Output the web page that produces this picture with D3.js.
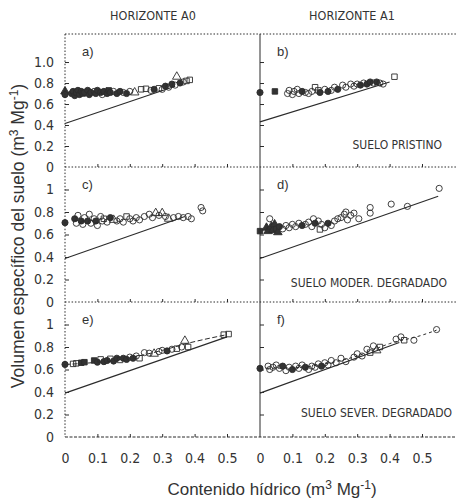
<!DOCTYPE html>
<html><head><meta charset="utf-8">
<script src="https://cdn.jsdelivr.net/npm/d3@7"></script>
<style>
body{margin:0;background:#fff;}
svg text{fill:#333;}
.nar{font-family:"Liberation Sans Narrow","DejaVu Sans Condensed","Liberation Sans",Arial,sans-serif;font-stretch:condensed;}
.reg{font-family:"Liberation Sans",Arial,sans-serif;}
</style></head><body>
<svg id="c" width="458" height="501"></svg>
<script>
// ---------- data ----------
const columnTitles = ["HORIZONTE A0", "HORIZONTE A1"];
const panelLetters = ["a)", "b)", "c)", "d)", "e)", "f)"];
const rowNotes = ["SUELO PRISTINO", "SUELO MODER. DEGRADADO", "SUELO SEVER. DEGRADADO"];
const xTicks = [0, 0.1, 0.2, 0.3, 0.4, 0.5];
const xTickLabels = ["0", "0.1", "0.2", "0.3", "0.4", "0.5"];
const yTicks = [0, 0.2, 0.4, 0.6, 0.8, 1.0];
const yTickLabelsTop = ["0", "0.2", "0.4", "0.6", "0.8", "1.0"];
const yTickLabelsLow = ["0", "0.2", "0.4", "0.6", "0.8", "1"];
const xMax = 0.6;
const yMaxByRow = [1.267, 1.2, 1.2];

// [water content, specific volume, marker] ; c=open circle, s=open square, t=open triangle, upper case = filled
const pointsA = [[0,0.72,'T'],[0,0.69,'C'],[0.02,0.70,'C'],[0.025,0.72,'C'],[0.03,0.68,'C'],[0.035,0.71,'S'],[0.04,0.73,'C'],[0.045,0.69,'C'],[0.05,0.72,'C'],[0.055,0.70,'S'],[0.06,0.71,'C'],[0.07,0.73,'C'],[0.075,0.69,'C'],[0.08,0.71,'C'],[0.09,0.72,'c'],[0.095,0.70,'C'],[0.10,0.73,'C'],[0.11,0.71,'C'],[0.115,0.69,'c'],[0.12,0.72,'C'],[0.13,0.70,'C'],[0.135,0.73,'S'],[0.14,0.71,'C'],[0.15,0.72,'c'],[0.16,0.70,'C'],[0.17,0.72,'C'],[0.18,0.71,'c'],[0.19,0.70,'C'],[0.20,0.72,'c'],[0.215,0.71,'t'],[0.235,0.74,'s'],[0.25,0.745,'s'],[0.265,0.73,'c'],[0.275,0.74,'C'],[0.29,0.75,'s'],[0.30,0.74,'c'],[0.31,0.77,'C'],[0.32,0.76,'c'],[0.33,0.79,'C'],[0.34,0.78,'c'],[0.345,0.86,'t'],[0.355,0.80,'C'],[0.365,0.81,'c'],[0.375,0.82,'s'],[0.385,0.83,'s']];
const pointsB = [[0,0.71,'C'],[0.046,0.72,'S'],[0.085,0.70,'c'],[0.09,0.73,'c'],[0.10,0.69,'c'],[0.105,0.72,'c'],[0.115,0.74,'c'],[0.12,0.70,'c'],[0.13,0.72,'C'],[0.14,0.71,'c'],[0.15,0.70,'c'],[0.16,0.72,'c'],[0.17,0.76,'s'],[0.18,0.73,'s'],[0.185,0.71,'C'],[0.20,0.74,'c'],[0.21,0.72,'C'],[0.22,0.73,'c'],[0.23,0.76,'c'],[0.24,0.74,'C'],[0.255,0.78,'c'],[0.265,0.76,'c'],[0.28,0.79,'c'],[0.29,0.77,'c'],[0.30,0.79,'c'],[0.31,0.78,'C'],[0.32,0.80,'c'],[0.33,0.79,'C'],[0.34,0.81,'C'],[0.35,0.80,'c'],[0.36,0.81,'C'],[0.37,0.80,'c'],[0.38,0.79,'c'],[0.415,0.86,'s']];
const pointsC = [[0,0.705,'C'],[0.03,0.74,'C'],[0.035,0.70,'c'],[0.04,0.77,'c'],[0.05,0.72,'C'],[0.055,0.69,'c'],[0.06,0.75,'c'],[0.07,0.72,'C'],[0.075,0.78,'c'],[0.08,0.70,'c'],[0.09,0.74,'c'],[0.095,0.72,'C'],[0.10,0.68,'c'],[0.11,0.76,'c'],[0.115,0.72,'c'],[0.12,0.74,'s'],[0.13,0.71,'c'],[0.14,0.75,'C'],[0.15,0.73,'t'],[0.16,0.72,'c'],[0.17,0.74,'c'],[0.18,0.71,'c'],[0.19,0.76,'s'],[0.20,0.74,'c'],[0.21,0.72,'c'],[0.22,0.75,'c'],[0.23,0.73,'c'],[0.245,0.76,'c'],[0.26,0.78,'c'],[0.27,0.75,'c'],[0.28,0.79,'t'],[0.29,0.77,'c'],[0.30,0.79,'t'],[0.31,0.76,'c'],[0.32,0.74,'t'],[0.335,0.75,'c'],[0.35,0.76,'c'],[0.365,0.75,'c'],[0.38,0.76,'c'],[0.39,0.74,'c'],[0.42,0.84,'c'],[0.425,0.81,'c']];
const pointsD = [[0,0.63,'S'],[0.02,0.66,'T'],[0.025,0.63,'T'],[0.03,0.74,'c'],[0.035,0.67,'T'],[0.04,0.64,'T'],[0.045,0.69,'T'],[0.05,0.65,'C'],[0.055,0.62,'T'],[0.06,0.67,'C'],[0.07,0.65,'c'],[0.08,0.68,'c'],[0.09,0.66,'c'],[0.10,0.69,'c'],[0.11,0.67,'c'],[0.12,0.70,'c'],[0.13,0.68,'C'],[0.14,0.69,'c'],[0.15,0.71,'c'],[0.16,0.67,'c'],[0.165,0.74,'c'],[0.17,0.70,'C'],[0.18,0.72,'c'],[0.185,0.645,'s'],[0.19,0.69,'c'],[0.20,0.66,'c'],[0.21,0.70,'C'],[0.22,0.68,'c'],[0.23,0.72,'c'],[0.24,0.74,'c'],[0.25,0.75,'c'],[0.26,0.78,'c'],[0.265,0.80,'c'],[0.27,0.73,'c'],[0.28,0.77,'c'],[0.29,0.79,'c'],[0.305,0.74,'c'],[0.34,0.84,'c'],[0.34,0.79,'c'],[0.405,0.87,'c'],[0.455,0.85,'c'],[0.553,1.01,'c']];
const pointsE = [[0,0.645,'C'],[0.025,0.65,'s'],[0.035,0.655,'s'],[0.05,0.66,'S'],[0.06,0.665,'S'],[0.09,0.68,'S'],[0.10,0.665,'C'],[0.11,0.69,'s'],[0.12,0.67,'C'],[0.13,0.68,'C'],[0.14,0.695,'s'],[0.15,0.675,'C'],[0.16,0.70,'C'],[0.17,0.685,'s'],[0.18,0.70,'C'],[0.19,0.69,'C'],[0.20,0.71,'c'],[0.21,0.70,'C'],[0.22,0.72,'c'],[0.23,0.70,'s'],[0.245,0.75,'c'],[0.26,0.745,'c'],[0.275,0.74,'t'],[0.29,0.76,'c'],[0.30,0.77,'c'],[0.315,0.765,'C'],[0.33,0.78,'c'],[0.345,0.785,'s'],[0.36,0.80,'c'],[0.37,0.855,'t'],[0.38,0.80,'s'],[0.49,0.91,'s'],[0.505,0.915,'s']];
const pointsF = [[0,0.61,'C'],[0.025,0.63,'c'],[0.03,0.60,'c'],[0.04,0.62,'c'],[0.05,0.64,'c'],[0.06,0.61,'c'],[0.07,0.63,'C'],[0.08,0.59,'c'],[0.09,0.62,'c'],[0.10,0.60,'C'],[0.11,0.63,'c'],[0.12,0.61,'c'],[0.13,0.64,'c'],[0.14,0.62,'C'],[0.15,0.60,'c'],[0.16,0.63,'c'],[0.17,0.62,'c'],[0.18,0.65,'c'],[0.19,0.63,'C'],[0.20,0.66,'c'],[0.21,0.64,'c'],[0.22,0.68,'c'],[0.235,0.66,'c'],[0.25,0.70,'c'],[0.265,0.67,'c'],[0.29,0.71,'c'],[0.30,0.74,'c'],[0.315,0.72,'c'],[0.33,0.78,'c'],[0.34,0.75,'s'],[0.35,0.81,'c'],[0.36,0.77,'t'],[0.37,0.80,'s'],[0.42,0.87,'c'],[0.435,0.89,'c'],[0.445,0.86,'s'],[0.475,0.86,'c'],[0.545,0.955,'c']];

// saturation (normal shrinkage) lines
const lineA = [[0,0.415],[0.34,0.77]];
const lineB = [[0,0.43],[0.40,0.81]];
const lineC = [[0,0.386],[0.37,0.76]];
const lineD = [[0,0.386],[0.55,0.94]];
const lineE = [[0,0.39],[0.50,0.89]];
const lineF = [[0,0.39],[0.43,0.84]];
// fitted shrinkage curves
const fitE = [[0,0.645],[0.1,0.665],[0.2,0.705],[0.3,0.77],[0.375,0.83],[0.5,0.91]];
const fitF = [[0,0.61],[0.1,0.615],[0.2,0.65],[0.3,0.72],[0.4,0.83],[0.5,0.905],[0.545,0.95]];

// ---------- layout ----------
const colLeft = [65, 260];
const colWidth = 194.4;
const rowTop = [34, 167, 302];
const rowBot = [167, 302, 437];
const ink = "#2b2b2b";

const panels = [
  {pts: pointsA, line: lineA, fit: null},
  {pts: pointsB, line: lineB, fit: null},
  {pts: pointsC, line: lineC, fit: null},
  {pts: pointsD, line: lineD, fit: null},
  {pts: pointsE, line: lineE, fit: fitE},
  {pts: pointsF, line: lineF, fit: fitF}
];

const svg = d3.select("#c");
svg.append("rect").attr("width",458).attr("height",501).attr("fill","#fff");

const symType = {c: d3.symbolCircle, s: d3.symbolSquare, t: d3.symbolTriangle};

panels.forEach((p, i) => {
  const r = Math.floor(i / 2), c = i % 2;
  const x = d3.scaleLinear().domain([0, xMax]).range([colLeft[c], colLeft[c] + colWidth]);
  const y = d3.scaleLinear().domain([0, yMaxByRow[r]]).range([rowBot[r], rowTop[r]]);
  const g = svg.append("g");

  const yt = g.append("g").attr("transform", `translate(${colLeft[c]},0)`)
    .call(d3.axisRight(y).tickValues(yTicks.slice(1)).tickSize(4).tickFormat(""));
  yt.select(".domain").remove();
  yt.selectAll("line").attr("stroke", ink);
  const xt = g.append("g").attr("transform", `translate(0,${rowBot[r]})`)
    .call(d3.axisTop(x).tickValues(xTicks.slice(1)).tickSize(3).tickFormat(""));
  xt.select(".domain").remove();
  xt.selectAll("line").attr("stroke", ink);

  if (c === 0) {
    const labels = r === 0 ? yTickLabelsTop : yTickLabelsLow;
    const ya = g.append("g").attr("transform", `translate(${colLeft[0]},0)`)
      .call(d3.axisLeft(y).tickValues(yTicks).tickSize(0).tickPadding(11)
        .tickFormat((d, k) => labels[k]));
    ya.select(".domain").remove();
    ya.selectAll("text").attr("class","nar").attr("font-size", 14).attr("fill", "#333");
  }
  if (r === 2) {
    const xa = g.append("g").attr("transform", `translate(0,${rowBot[2]})`)
      .call(d3.axisBottom(x).tickValues(xTicks).tickSize(0).tickPadding(16)
        .tickFormat((d, k) => xTickLabels[k]));
    xa.select(".domain").remove();
    xa.selectAll("text").attr("class","nar").attr("font-size", 14).attr("fill", "#333");
  }

  g.append("path").datum(p.line)
    .attr("d", d3.line().x(d => x(d[0])).y(d => y(d[1])))
    .attr("fill", "none").attr("stroke", ink).attr("stroke-width", 1.1);
  if (p.fit) {
    g.append("path").datum(p.fit)
      .attr("d", d3.line().curve(d3.curveMonotoneX).x(d => x(d[0])).y(d => y(d[1])))
      .attr("fill", "none").attr("stroke", ink).attr("stroke-width", 1)
      .attr("stroke-dasharray", i === 4 ? "5,2.5" : "3,3");
  }
  g.selectAll("path.pt").data(p.pts).enter().append("path")
    .attr("class", "pt")
    .attr("transform", d => `translate(${x(d[0])},${y(d[1])})`)
    .attr("d", d => d3.symbol().type(symType[d[2].toLowerCase()]).size(d[2].toLowerCase() === 't' ? 32 : 30)())
    .attr("fill", d => d[2] === d[2].toUpperCase() ? "#333" : "none")
    .attr("stroke", ink).attr("stroke-width", 0.9);

  svg.append("text").attr("class","reg").attr("x", colLeft[c] + 17).attr("y", rowTop[r] + 22)
    .attr("font-size", 13).text(panelLetters[i]);
});

// frame
const fr = svg.append("g").attr("fill","none").attr("stroke", ink).attr("stroke-width", 1);
const dotted = "1.5,1.8";
[rowTop[0], rowBot[0], rowBot[1]].forEach(yy => {
  fr.append("line").attr("x1", colLeft[0]).attr("x2", 456).attr("y1", yy).attr("y2", yy).attr("stroke-dasharray", dotted);
});
fr.append("line").attr("x1", colLeft[0]).attr("x2", 456).attr("y1", rowBot[2]).attr("y2", rowBot[2]).attr("stroke-dasharray", "3,1.5");
fr.append("line").attr("x1", colLeft[0]).attr("x2", colLeft[0]).attr("y1", rowTop[0]).attr("y2", rowBot[2]).attr("stroke-dasharray", dotted);
fr.append("line").attr("x1", colLeft[1]).attr("x2", colLeft[1]).attr("y1", rowTop[0]).attr("y2", rowBot[2]);

columnTitles.forEach((t, k) => {
  svg.append("text").attr("class","nar").attr("x", [153, 352][k]).attr("y", 20)
    .attr("text-anchor", "middle").attr("font-size", 12.5).text(t);
});
const noteX = [442, 447, 452], noteY = [149, 287, 417];
rowNotes.forEach((t, k) => {
  svg.append("text").attr("class","nar").attr("x", noteX[k]).attr("y", noteY[k])
    .attr("text-anchor", "end").attr("font-size", 12).text(t);
});

const xt = svg.append("text").attr("class","reg").attr("x", 272).attr("y", 495)
  .attr("text-anchor", "middle").attr("font-size", 17);
xt.append("tspan").text("Contenido hídrico (m");
xt.append("tspan").attr("dy", -6).attr("font-size", 12).text("3");
xt.append("tspan").attr("dy", 6).text(" Mg");
xt.append("tspan").attr("dy", -6).attr("font-size", 12).text("-1");
xt.append("tspan").attr("dy", 6).text(")");

const ytl = svg.append("text").attr("class","reg").attr("transform", "translate(24,236) rotate(-90)")
  .attr("text-anchor", "middle").attr("font-size", 17.5);
ytl.append("tspan").text("Volumen específico del suelo (m");
ytl.append("tspan").attr("dy", -6).attr("font-size", 12).text("3");
ytl.append("tspan").attr("dy", 6).text(" Mg");
ytl.append("tspan").attr("dy", -6).attr("font-size", 12).text("-1");
ytl.append("tspan").attr("dy", 6).text(")");
</script>
</body></html>
